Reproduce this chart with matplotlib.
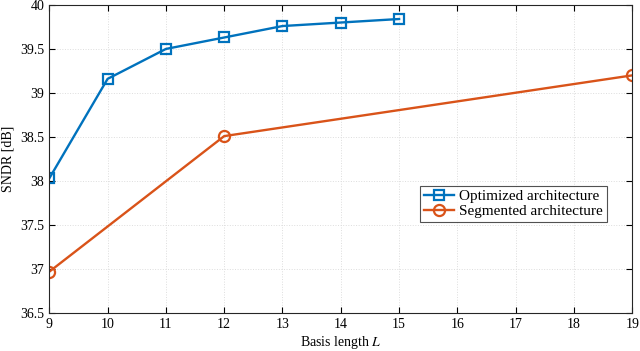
import matplotlib
matplotlib.use("Agg")
import matplotlib.pyplot as plt

x_opt = [9, 10, 11, 12, 13, 14, 15]
y_opt = [38.03, 39.16, 39.50, 39.63, 39.76, 39.80, 39.84]
x_seg = [9, 12, 19]
y_seg = [36.97, 38.51, 39.20]
xticks = list(range(9, 20))
yticks = [36.5, 37, 37.5, 38, 38.5, 39, 39.5, 40]

plt.rcParams['font.family'] = ['Liberation Serif', 'DejaVu Serif']
plt.rcParams['mathtext.fontset'] = 'stix'

fig = plt.figure(figsize=(6.40, 3.51), dpi=100)
ax = fig.add_axes([0.077, 0.108, 0.911, 0.878])
ax.plot(x_opt, y_opt, color='#0072BD', lw=1.7, marker='s', ms=6.5, mfc='none', mew=1.6, label='Optimized architecture')
ax.plot(x_seg, y_seg, color='#D95319', lw=1.7, marker='o', ms=8, mfc='none', mew=1.6, label='Segmented architecture')
ax.set_xlim(9, 19)
ax.set_ylim(36.5, 40)
ax.set_xticks(xticks)
ax.set_yticks(yticks)
ax.set_yticklabels([f"{v:g}" for v in yticks])
ax.tick_params(direction='in', top=True, right=True, labelsize=10, length=4, width=0.8)
ax.grid(True, ls=':', color='#dddddd', lw=0.7)
for s in ax.spines.values():
    s.set_linewidth(0.8)
    s.set_color('#262626')
ax.set_xlabel('Basis length $L$', fontsize=10, labelpad=2)
ax.set_ylabel('SNDR [dB]', fontsize=10, labelpad=4)
leg = ax.legend(loc='lower left', bbox_to_anchor=(0.636, 0.295), fontsize=11, frameon=True, fancybox=False,
                edgecolor='#262626', handlelength=2.0, handletextpad=0.3, borderpad=0.25, labelspacing=0.1, borderaxespad=0)
leg.get_frame().set_linewidth(0.8)
fig.savefig('out.png', dpi=100)
